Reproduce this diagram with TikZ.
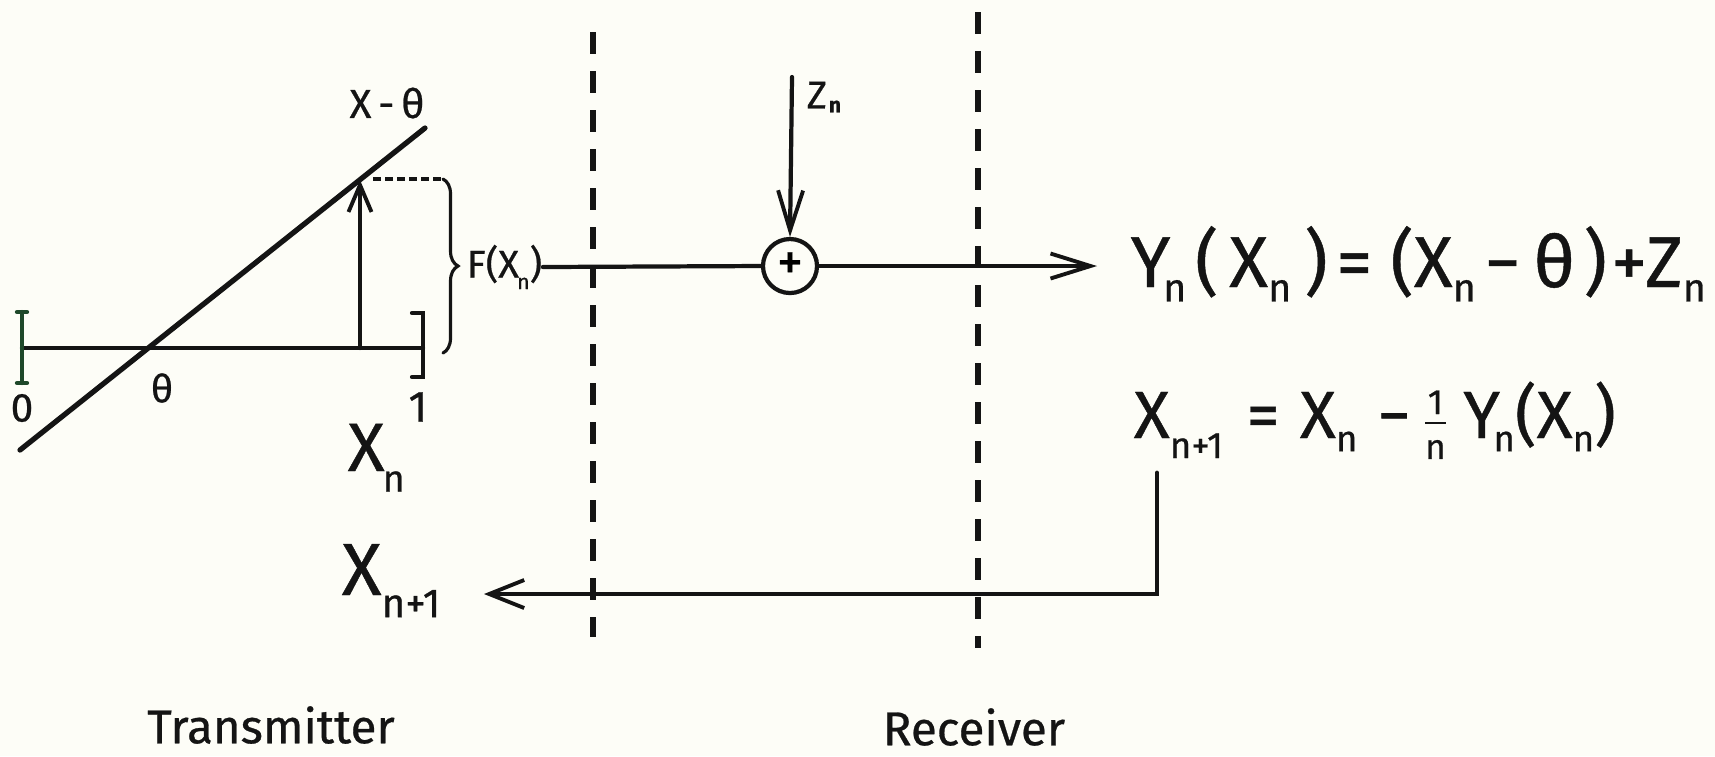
\documentclass[tikz,border=0pt]{standalone}
\usepackage{fontspec}
\setmainfont{Fira Sans}[FakeBold=0.6]
\usepackage{graphicx}
\usetikzlibrary{arrows.meta,decorations.pathreplacing}
\newcommand\fsz[1]{\fontsize{#1}{#1}\selectfont}
\newcommand\sbx[2][0.2em]{\raisebox{-#1}{\scalebox{0.55}{#2}}}
\definecolor{bgc}{RGB}{253,253,247}
\definecolor{ink}{RGB}{20,20,20}
\definecolor{brk}{RGB}{30,72,42}
\begin{document}
\begin{tikzpicture}[x=0.01cm,y=-0.01cm,
  ln/.style={draw=ink,line width=1.2pt,line cap=round},
  arr/.style={-{Straight Barb[length=0.4cm,width=0.25cm,line width=1.1pt]}},
  sarr/.style={-{Straight Barb[length=0.27cm,width=0.23cm,line width=1.1pt]}},
  bdash/.style={draw=ink,line width=1.6pt,dash pattern=on 0.22cm off 0.17cm},
  tdash/.style={draw=ink,line width=0.9pt,dash pattern=on 0.08cm off 0.04cm},
  lbl/.style={text=ink,inner sep=0pt}]
\fill[bgc] (0,0) rectangle (1715,756);
\useasboundingbox (0,0) rectangle (1715,756);

% separators
\draw[bdash] (593,32) -- (593,637);
\draw[bdash] (978,12) -- (978,648);

% transmitter graph
\coordinate (a0) at (22,348);
\coordinate (a1) at (423,348);
\draw[ln] (a0) -- (a1);
\draw[ln,draw=brk] (17,312) -- (27,312) (22,312) -- (22,383) (17,383) -- (27,383);
\draw[ln] (412,313) -- (423,313) -- (423,377) -- (412,377);
\coordinate (d0) at (20,450);
\coordinate (d1) at (425,128);
\draw[ln,line width=1.5pt] (d0) -- (d1);
\coordinate (v0) at (360,348);
\coordinate (v1) at (360,180);
\draw[ln,sarr] (v0) -- (v1);
\coordinate (h0) at (373,179);
\coordinate (h1) at (442,179);
\draw[tdash] (h0) -- (h1);
\draw[ln,line width=0.9pt,decorate,decoration={brace,amplitude=0.15cm}] (443,179) -- (443,353);

\node[lbl,font=\fsz{11.5pt}] (xt) at (387,103) {X\,-\,θ};
\node[lbl,font=\fsz{11pt}] (th) at (162,388) {θ};
\node[lbl,font=\fsz{11.5pt}] (zero) at (22,408) {0};
\node[lbl,font=\fsz{12.5pt}] (one) at (418,407) {1};
\node[lbl,font=\fsz{19.5pt},anchor=base west] (xn) at (347,471) {X\kern-0.03em\sbx[0.3em]{n}};

% channel
\node[lbl,font=\fsz{11pt},anchor=west] (F) at (466,267) {F(X\kern-0.05em\sbx[0.3em]{n})};
\node[circle,draw=ink,line width=1.2pt,minimum size=0.54cm,inner sep=0pt,font=\fsz{15pt}] (sum) at (790,266) {+};
\draw[ln] (F.east) -- (sum.west);
\coordinate (yt) at (1097,266);
\draw[ln,arr] (sum.east) -- (yt);
\coordinate (zs) at (792,77);
\draw[ln,arr] (zs) -- (sum.north);
\node[lbl,font=\fsz{11pt},anchor=west] (zl) at (806,97) {Z\kern0.05em\sbx[0.1em]{\textbf{n}}};

% receiver equations
\node[lbl,font=\fsz{20.5pt},anchor=base west] (yeq) at (1130,287)
  {Y\kern-0.1em\sbx{n}\hspace{0.12em}(\hspace{0.15em}X\sbx{n}\hspace{0.18em})\hspace{0.12em}=\hspace{0.25em}(X\sbx{n}\hspace{0.12em}−\hspace{0.18em}θ\hspace{0.12em})\hspace{0.06em}+Z\sbx{n}};
\node[lbl,font=\fsz{19pt},anchor=base west] (xeq) at (1133,438)
  {X\sbx[0.3em]{n+1}\hspace{0.35em}=\hspace{0.3em}X\sbx{n}\hspace{0.3em}−\hspace{0.15em}$\frac{\hbox{\fsz{10pt}1}}{\hbox{\fsz{10pt}n}}$\hspace{0.2em}Y\kern-0.1em\sbx{n}(X\sbx{n})};

% feedback
\coordinate (fb0) at (1157,473);
\coordinate (fbt) at (484,594);
\draw[ln,line width=1.4pt,-{Straight Barb[length=0.35cm,width=0.28cm,line width=1.1pt]}] (fb0) |- (fbt);
\node[lbl,font=\fsz{21pt},anchor=base west] (xl) at (341,595) {X\sbx[0.3em]{n+1}};

% captions
\node[lbl,font=\fsz{13.5pt}] (tx) at (271,725) {Transmitter};
\node[lbl,font=\fsz{13.5pt}] (rx) at (974,727) {Receiver};
\end{tikzpicture}
\end{document}
